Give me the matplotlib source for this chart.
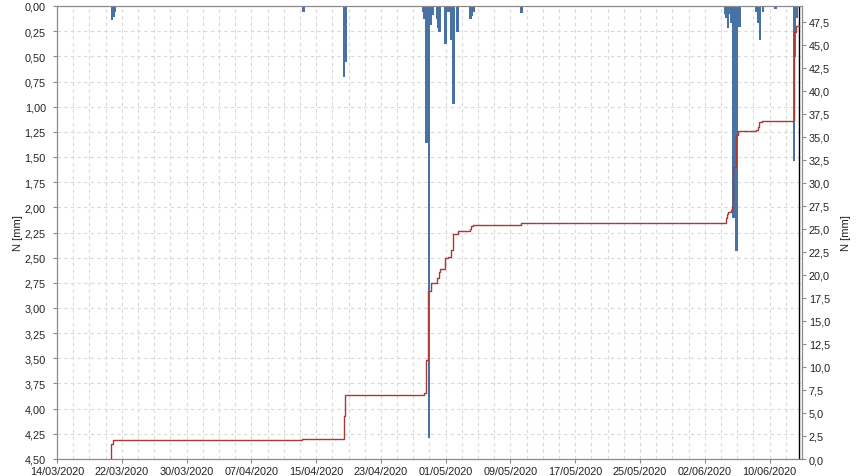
import numpy as np
import pandas as pd
import matplotlib
matplotlib.use("Agg")
import matplotlib.pyplot as plt
import matplotlib.dates as mdates
from matplotlib.ticker import FuncFormatter, MultipleLocator

plt.rcParams["font.family"] = ["Liberation Sans", "DejaVu Sans"]

# rainfall bars (left axis, inverted)
bar_times = ["2020-03-20 18:30", "2020-03-20 23:00", "2020-03-21 03:30",
             "2020-04-13 11:00", "2020-04-18 11:00", "2020-04-18 15:00",
             "2020-04-28 05:00", "2020-04-28 10:00", "2020-04-28 15:30",
             "2020-04-28 22:30", "2020-04-29 05:00", "2020-04-29 09:30",
             "2020-04-29 23:00", "2020-04-30 02:30", "2020-04-30 06:00",
             "2020-04-30 23:00", "2020-05-01 09:00", "2020-05-01 18:00",
             "2020-05-01 23:45", "2020-05-02 11:30", "2020-05-04 02:00",
             "2020-05-04 06:30", "2020-05-04 11:00", "2020-05-10 09:30",
             "2020-06-04 12:30", "2020-06-04 17:00", "2020-06-04 20:30",
             "2020-06-05 01:00", "2020-06-05 07:30", "2020-06-05 12:45",
             "2020-06-05 22:00", "2020-06-06 07:00", "2020-06-08 10:00",
             "2020-06-08 15:00", "2020-06-08 19:30", "2020-06-09 04:00",
             "2020-06-10 18:00", "2020-06-13 00:15", "2020-06-13 03:30",
             "2020-06-13 07:00"]
bar_values = [0.14, 0.11, 0.06,
              0.06, 0.71, 0.56,
              0.06, 0.13, 1.36,
              4.29, 0.19, 0.09,
              0.13, 0.22, 0.26,
              0.38, 0.06, 0.34,
              0.97, 0.26, 0.13,
              0.10, 0.06, 0.07,
              0.08, 0.12, 0.22,
              0.08, 0.17, 2.11,
              2.43, 0.21, 0.06,
              0.17, 0.34, 0.06,
              0.03, 1.54, 0.51,
              0.12]

# cumulative rainfall (right axis)
cum_times = ["2020-03-20 16:00", "2020-03-20 17:00", "2020-03-20 23:00",
             "2020-04-13 07:00", "2020-04-18 10:00", "2020-04-18 14:00",
             "2020-04-28 07:00", "2020-04-28 13:00", "2020-04-28 21:00",
             "2020-04-29 04:00", "2020-04-29 22:00", "2020-04-30 04:00",
             "2020-04-30 07:00", "2020-04-30 22:00", "2020-05-01 06:00",
             "2020-05-01 15:00", "2020-05-01 22:00", "2020-05-02 11:00",
             "2020-05-04 01:00", "2020-05-04 04:00", "2020-05-04 10:00",
             "2020-05-10 06:00", "2020-06-04 14:00", "2020-06-04 17:00",
             "2020-06-04 21:00", "2020-06-05 05:00", "2020-06-05 09:00",
             "2020-06-05 12:00", "2020-06-05 19:00", "2020-06-06 01:00",
             "2020-06-08 07:00", "2020-06-08 14:00", "2020-06-08 17:00",
             "2020-06-09 02:00", "2020-06-13 00:00", "2020-06-13 01:00",
             "2020-06-13 06:00", "2020-06-13 15:00"]
cum_values = [0.0, 1.6, 2.1,
              2.2, 4.7, 7.0,
              7.2, 10.7, 18.3,
              19.1, 19.65, 20.3,
              20.6, 21.8, 21.9,
              22.7, 24.4, 24.8,
              25.0, 25.3, 25.4,
              25.6, 26.2, 26.6,
              26.8, 27.0, 27.4,
              31.7, 35.2, 35.6,
              35.7, 36.1, 36.6,
              36.7, 44.1, 46.4,
              47.0, 47.0]

now_marker = "2020-06-13 15:00"
x_start = "2020-03-14"
x_end = "2020-06-14"

bar_t = pd.to_datetime(bar_times)
cum_t = pd.to_datetime(cum_times)

fig = plt.figure(figsize=(8.6, 4.77), dpi=100)
ax = fig.add_axes([57/860, 1-460/477, (802-57)/860, (460-7)/477])
ax2 = ax.twinx()

grid_kw = dict(color='#d8d8d8', linestyle=(0, (3, 3)), linewidth=0.8)
ax.set_axisbelow(True)
ax.grid(True, which='major', axis='y', **grid_kw)
ax.grid(True, which='both', axis='x', **grid_kw)

ax.bar(bar_t, bar_values, width=0.32, color='#4872a6', align='center', zorder=2)
ax.set_ylim(4.5, 0)
ax.yaxis.set_major_locator(MultipleLocator(0.25))
ax.yaxis.set_major_formatter(FuncFormatter(lambda v, p: ("%.2f" % v).replace('.', ',')))

ax2.plot(cum_t, cum_values, drawstyle='steps-post', color='#a83a36', linewidth=1.0, zorder=3)
ax2.axvline(pd.Timestamp(now_marker), color='black', linewidth=1.0)
ax2.set_ylim(0, 49.2)
ax2.yaxis.set_major_locator(MultipleLocator(2.5))
ax2.yaxis.set_major_formatter(FuncFormatter(lambda v, p: ("%.1f" % v).replace('.', ',')))

ax.set_xlim(pd.Timestamp(x_start), pd.Timestamp(x_end))
ax.set_xticks(pd.date_range(x_start, x_end, freq='8D'))
ax.xaxis.set_major_formatter(mdates.DateFormatter('%d/%m/%Y'))
ax.set_xticks(pd.date_range(x_start, x_end, freq='2D'), minor=True)
ax.tick_params(axis='x', which='minor', length=0)

for a in (ax, ax2):
    for s in a.spines.values():
        s.set_color('#8a8a8a')
    a.tick_params(colors='#8a8a8a', labelcolor='#222222', labelsize=7.8,
                  length=3, width=0.8, pad=2)
ax.tick_params(axis='y', pad=5)

ax.set_ylabel('N [mm]', fontsize=8, color='#222222', labelpad=1)
ax2.set_ylabel('N [mm]', fontsize=8, color='#222222', labelpad=8)

fig.savefig('out.png', dpi=100)
